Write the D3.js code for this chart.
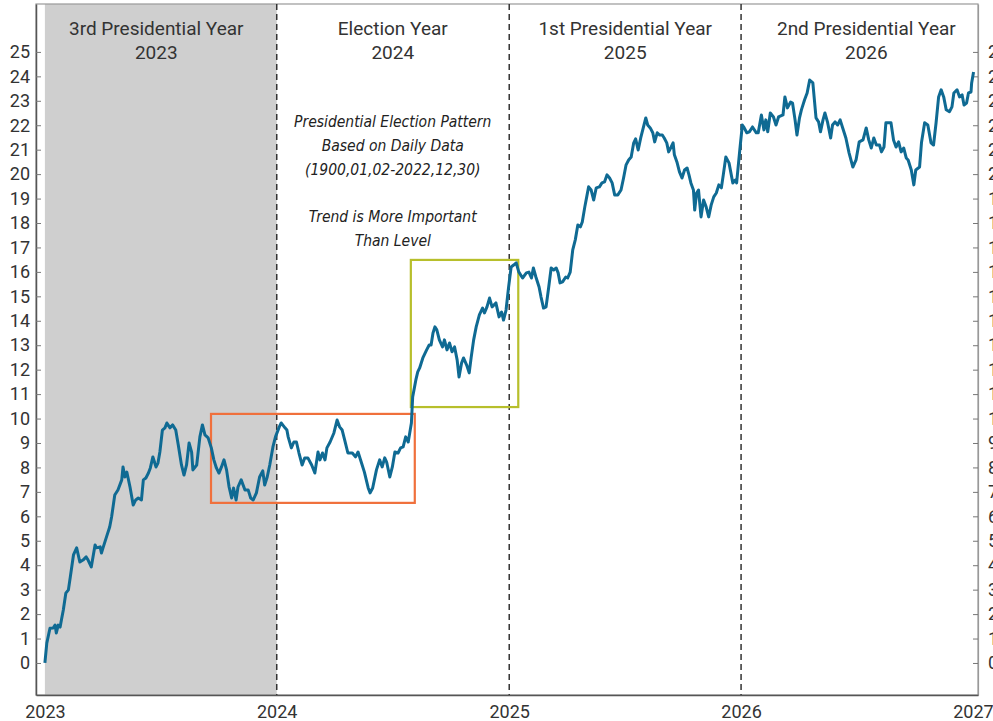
<!DOCTYPE html>
<html lang="en">
<head>
    <meta charset="UTF-8">
    <title>Presidential Election Pattern</title>
    <script src="https://cdn.jsdelivr.net/npm/d3@7"></script>
    <style>
        body { margin: 0; background: #fff; }
        svg { display: block; }
        .tick text { font-family: Roboto, "Noto Sans", sans-serif; font-size: 18px; fill: #333; }
    </style>
</head>
<body>
    <svg></svg>
    <script>
        // days since 2023-01-01 and the pattern value (%) on that day
        let days = [
            0, 3, 8, 13, 16, 18, 21, 24, 26, 29, 33, 37, 40, 45, 50, 55, 60, 65, 68, 73, 79, 81, 87, 89, 92, 97, 102, 105, 110, 115,
            121, 123, 126, 129, 131, 134, 139, 143, 147, 152, 155, 159, 163, 166, 170, 175, 178, 181, 185, 189, 192, 197, 201, 206, 210,
            215, 219, 223, 227, 231, 233, 239, 244, 248, 252, 257, 262, 266, 270, 274, 278, 282, 286, 290, 294, 297, 301, 304, 309, 315,
            320, 324, 328, 333, 338, 343, 346, 350, 354, 359, 363,
            369, 372, 378, 381, 383, 388, 392, 396, 400, 405, 409, 414, 420, 425, 430, 433, 437, 441, 444, 449, 455, 460, 464, 468, 472,
            477, 484, 489, 493, 498, 503, 509, 512, 516, 522, 527, 531, 535, 538, 543, 547, 551, 556, 560, 564, 568, 572, 577, 579, 584,
            587, 590, 595, 601, 605, 608, 611, 614, 617, 621, 626, 629, 633, 637, 641, 645, 649, 652, 656, 659, 664, 668, 671, 675, 679,
            684, 689, 692, 696, 700, 704, 710, 715, 719, 722, 726,
            730, 734, 738, 742, 746, 752, 758, 762, 766, 769, 773, 778, 781, 785, 789, 793, 797, 801, 805, 808, 811, 815, 820, 823, 827,
            831, 835, 839, 843, 846, 850, 853, 856, 860, 864, 868, 873, 877, 881, 885, 889, 893, 897, 902, 907, 911, 915, 919, 923, 927,
            930, 934, 938, 942, 946, 949, 953, 957, 960, 964, 968, 972, 975, 979, 982, 986, 989, 991, 995, 999, 1003, 1007, 1011, 1014,
            1017, 1021, 1023, 1026, 1029, 1033, 1037, 1041, 1045, 1049, 1053, 1057, 1061, 1065, 1068, 1072, 1077, 1080, 1083, 1087, 1089,
            1094, 1098, 1101, 1105, 1109, 1114, 1120, 1123, 1128, 1132, 1135, 1138, 1142, 1147, 1151, 1155, 1162, 1165, 1169, 1174, 1177,
            1181, 1184, 1188, 1191, 1196, 1200, 1204, 1209, 1214, 1218, 1221, 1225, 1228, 1232, 1237, 1240, 1244, 1248, 1252, 1256, 1261,
            1266, 1272, 1277, 1282, 1288, 1293, 1297, 1301, 1305, 1309, 1314, 1317, 1321, 1324, 1332, 1336, 1340, 1344, 1348, 1352, 1356,
            1359, 1364, 1368, 1371, 1377, 1380, 1385, 1390, 1395, 1399, 1403, 1407, 1411, 1415, 1419, 1424, 1428, 1431, 1436, 1440, 1444,
            1447, 1451, 1454, 1458, 1459, 1462
        ];
        let values = [
            0, 0.81, 1.42, 1.43, 1.55, 1.23, 1.55, 1.47, 1.76, 2.17, 2.86, 2.99, 3.52, 4.42, 4.71, 4.13, 4.21, 4.34, 4.21, 3.93, 4.83, 4.71, 4.75, 4.50, 4.75, 5.16, 5.56, 5.97, 6.87, 7.08,
            7.49, 8.02, 7.61, 7.81, 7.57, 7.20, 6.46, 6.67, 6.75, 6.67, 7.49, 7.57, 7.77, 7.98, 8.43, 8.02, 8.18, 8.63, 9.53, 9.62, 9.82, 9.62, 9.74, 9.53, 8.92,
            8.10, 7.69, 8.10, 9.00, 8.63, 7.90, 8.10, 9.25, 9.74, 9.33, 9.21, 8.80, 8.31, 7.98, 7.77, 8.02, 8.31, 7.90, 7.20, 6.75, 7.16, 6.67, 7.20, 7.49, 7.08,
            7.08, 6.75, 6.67, 6.96, 7.61, 7.86, 7.28, 7.61, 8.10, 8.84, 9.25,
            9.66, 9.82, 9.62, 9.53, 9.25, 8.80, 9.04, 9.04, 8.59, 8.10, 8.39, 8.39, 8.10, 7.77, 8.63, 8.31, 8.59, 8.31, 8.80, 9.04, 9.41, 9.94, 9.66, 9.53, 9.12,
            8.59, 8.59, 8.43, 8.63, 8.22, 7.81, 7.16, 6.96, 7.16, 7.90, 8.31, 8.02, 8.39, 8.22, 7.61, 8.02, 8.63, 8.59, 8.80, 8.84, 9.25, 9.04, 9.82, 10.88, 11.58,
            11.91, 12.07, 12.48, 12.81, 13.01, 13.01, 13.50, 13.75, 13.63, 13.22, 12.93, 13.22, 12.81, 13.09, 12.73, 12.93, 12.40, 11.70, 12.27, 12.48, 12.19, 11.87, 12.48, 13.22, 13.75,
            14.24, 14.52, 14.32, 14.57, 14.93, 14.57, 14.73, 14.16, 14.36, 14.03, 14.44,
            15.38, 16.20, 16.28, 16.37, 16.00, 15.75, 15.96, 15.99, 15.75, 16.16, 15.79, 15.38, 14.98, 14.52, 14.57, 15.34, 16.16, 16.08, 16.16, 15.96, 15.55, 15.59, 15.79, 15.75, 15.99,
            16.90, 17.31, 17.92, 17.84, 18.04, 18.66, 19.07, 19.48, 19.35, 18.94, 19.44, 19.48, 19.64, 19.68, 19.97, 19.84, 19.64, 19.15, 19.15, 19.35, 19.84, 20.38, 20.58, 20.70, 21.28,
            21.44, 20.99, 21.48, 21.89, 22.30, 22.01, 21.89, 21.69, 21.32, 21.69, 21.60, 21.60, 21.48, 21.28, 20.91, 21.11, 21.28, 20.79, 20.50, 20.09, 19.84, 20.17, 20.25, 19.97,
            19.64, 19.35, 18.53, 19.23, 19.35, 18.25, 18.94, 18.66, 18.25, 18.74, 19.07, 19.23, 19.56, 19.44, 19.97, 20.70, 20.46, 20.05, 19.64, 19.76, 19.64,
            20.99, 22.01, 21.89, 21.69, 21.73, 21.93, 21.69, 21.69, 22.42, 21.81, 22.22, 21.73, 22.50, 22.34, 22.01, 22.34, 22.42, 23.16, 22.71, 22.95, 22.91,
            22.22, 21.60, 22.30, 22.63, 23.04, 23.32, 23.85, 23.73, 22.30, 22.14, 21.73, 22.22, 22.50, 22.14, 21.48, 22.01, 22.14, 22.01, 22.22, 21.89, 21.48,
            20.87, 20.29, 20.58, 21.32, 21.40, 21.89, 21.40, 21.07, 21.48, 21.19, 21.19, 20.91, 21.11, 22.10, 22.10, 21.40, 21.11, 21.32, 20.91, 21.07, 20.66,
            20.58, 20.17, 19.56, 20.17, 20.29, 21.28, 22.10, 22.01, 21.28, 21.19, 22.10, 23.16, 23.45, 23.16, 22.63, 22.55, 22.75, 23.32, 23.45, 23.16, 23.24,
            22.83, 22.91, 23.32, 23.36, 23.73, 24.18
        ];

        let yearTicks = [2023, 2024, 2025, 2026, 2027];
        let valueTicks = d3.range(0, 26);
        let periodNames = ["3rd Presidential Year", "Election Year", "1st Presidential Year", "2nd Presidential Year"];
        let periodYears = ["2023", "2024", "2025", "2026"];
        let noteLines = ["Presidential Election Pattern", "Based on Daily Data", "(1900,01,02-2022,12,30)", "", "Trend is More Important", "Than Level"];

        let svgWidth = 993, svgHeight = 721;
        let mLeft = 36, mRight = 978, mTop = 4, mBottom = 695;

        let svg = d3.select('svg')
            .attr("width", svgWidth)
            .attr("height", svgHeight);

        let start = new Date(2023, 0, 1);
        let data = days.map((d, i) => ({date: d3.timeDay.offset(start, d), value: values[i]}));

        let x = d3.scaleTime()
            .domain([new Date(2022, 11, 18), new Date(2027, 0, 9)])
            .range([mLeft, mRight]);
        let y = d3.scaleLinear()
            .domain([-1.31, 26.96])
            .range([mBottom, mTop]);

        let yearDate = yr => new Date(yr, 0, 1);
        // fractional year -> date
        let fy = f => new Date(yearDate(Math.floor(f)).getTime() + (f % 1) * 365.25 * 864e5);

        // gray band for the 3rd presidential year
        svg.append("rect")
            .attr("x", x(yearDate(2023)))
            .attr("y", mTop)
            .attr("width", x(yearDate(2024)) - x(yearDate(2023)))
            .attr("height", mBottom - mTop)
            .attr("fill", "#cfcfcf");

        // frame
        svg.append("rect")
            .attr("x", mLeft).attr("y", mTop)
            .attr("width", mRight - mLeft).attr("height", mBottom - mTop)
            .attr("fill", "none")
            .attr("stroke", "#999")
            .attr("stroke-width", 1.2);

        // dashed year separators
        svg.selectAll("line.sep")
            .data([2024, 2025, 2026])
            .enter()
            .append("line")
            .attr("class", "sep")
            .attr("x1", d => x(yearDate(d))).attr("x2", d => x(yearDate(d)))
            .attr("y1", mTop).attr("y2", mBottom)
            .attr("stroke", "#333")
            .attr("stroke-width", 1.5)
            .attr("stroke-dasharray", "6,4");

        // axes (the right-hand labels run off the edge, as in the source picture)
        let axisLeft = d3.axisLeft(y).tickValues(valueTicks).tickSizeInner(-5).tickSizeOuter(0).tickPadding(6);
        let gl = svg.append("g").attr("transform", `translate(${mLeft},0)`).call(axisLeft);
        let axisRight = d3.axisRight(y).tickValues(valueTicks).tickSizeInner(-5).tickSizeOuter(0).tickPadding(10);
        let gr = svg.append("g").attr("transform", `translate(${mRight},0)`).call(axisRight);
        let axisBottom = d3.axisBottom(x).tickValues(yearTicks.map(yearDate)).tickFormat(d3.timeFormat("%Y"))
            .tickSizeInner(0).tickSizeOuter(0).tickPadding(8);
        let gb = svg.append("g").attr("transform", `translate(0,${mBottom})`).call(axisBottom);

        gl.select(".domain").attr("stroke", "#555").attr("stroke-width", 1.5);
        gr.select(".domain").attr("stroke", "#999").attr("stroke-width", 1.2);
        gb.select(".domain").attr("stroke", "#555").attr("stroke-width", 1.5);
        svg.selectAll(".tick line").attr("stroke", "#777");
        gb.selectAll(".tick text").attr("dy", "0.85em");

        // highlight boxes
        let boxes = [
            {x0: 2023.716, x1: 2024.595, y0: 6.55, y1: 10.19, color: "#f0703c"},
            {x0: 2024.578, x1: 2025.039, y0: 10.47, y1: 16.49, color: "#b7bf2b"}
        ];
        svg.selectAll("rect.box")
            .data(boxes)
            .enter()
            .append("rect")
            .attr("class", "box")
            .attr("x", d => x(fy(d.x0)))
            .attr("y", d => y(d.y1))
            .attr("width", d => x(fy(d.x1)) - x(fy(d.x0)))
            .attr("height", d => y(d.y0) - y(d.y1))
            .attr("fill", "none")
            .attr("stroke", d => d.color)
            .attr("stroke-width", 2.2);

        // the pattern line
        let line = d3.line()
            .x(d => x(d.date))
            .y(d => y(d.value));
        svg.append("path")
            .datum(data)
            .attr("d", line)
            .attr("fill", "none")
            .attr("stroke", "#0f6a93")
            .attr("stroke-width", 3)
            .attr("stroke-linejoin", "round");

        // period titles
        let titleX = [2023.48, 2024.5, 2025.5, 2026.54];
        periodNames.forEach((name, i) => {
            let t = svg.append("text")
                .attr("x", x(fy(titleX[i])))
                .attr("text-anchor", "middle")
                .attr("font-family", "Roboto, 'Noto Sans', sans-serif")
                .attr("font-size", 19)
                .attr("fill", "#333");
            t.append("tspan").attr("x", x(fy(titleX[i]))).attr("y", 35).text(name);
            t.append("tspan").attr("x", x(fy(titleX[i]))).attr("y", 59).text(periodYears[i]);
        });

        // note
        let note = svg.append("text")
            .attr("text-anchor", "middle")
            .attr("font-family", "'Liberation Sans Narrow', 'DejaVu Sans Condensed', Roboto, sans-serif")
            .attr("font-style", "italic")
            .attr("font-size", 15.5)
            .attr("fill", "#222");
        noteLines.forEach((s, i) => {
            note.append("tspan")
                .attr("x", x(fy(2024.5)))
                .attr("y", 127 + i * 23.8)
                .text(s);
        });
    </script>
</body>
</html>
